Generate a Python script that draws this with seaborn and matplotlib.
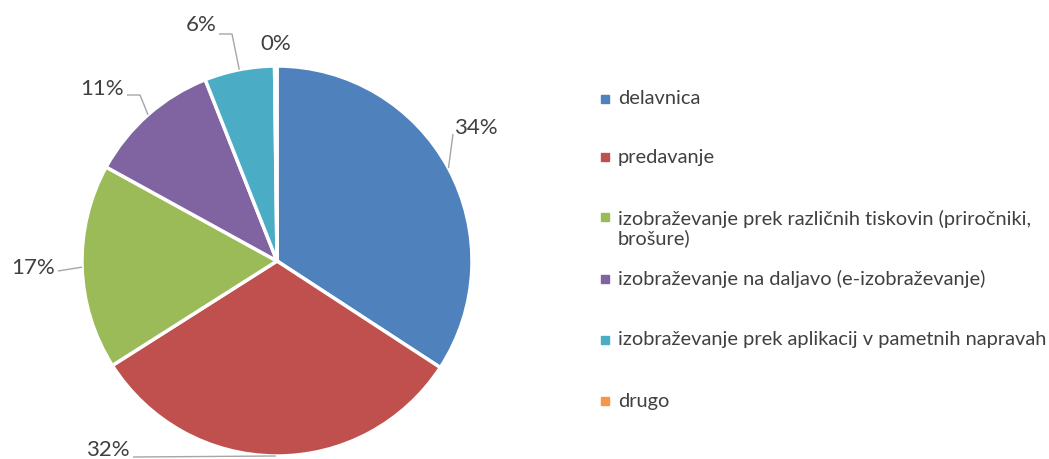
import numpy as np
import matplotlib
matplotlib.use("Agg")
import matplotlib.pyplot as plt
import seaborn as sns

# podatki
kategorije = [
    "delavnica",
    "predavanje",
    "izobraževanje prek različnih tiskovin (priročniki,\nbrošure)",
    "izobraževanje na daljavo (e-izobraževanje)",
    "izobraževanje prek aplikacij v pametnih napravah",
    "drugo",
]
deleži = [34.2, 31.8, 17.0, 11.0, 5.8, 0.2]
oznake = ["34%", "32%", "17%", "11%", "6%", "0%"]

barve = ["#4F81BD", "#C0504D", "#9BBB59", "#8064A2", "#4BACC6", "#F79646"]

sns.set_theme(style="white")
plt.rcParams["font.family"] = ["Lato", "DejaVu Sans"]
tekst = "#404040"
crta = "#A6A6A6"

W, H = 1049, 459
fig = plt.figure(figsize=(W / 100, H / 100), dpi=100)
ax = fig.add_axes([0, 0, 1, 1])
ax.axis("off")

cx, cy, r = 277, H - 261, 195
klini, _ = ax.pie(deleži, colors=sns.color_palette(barve), startangle=90,
                  counterclock=False, center=(cx, cy), radius=r,
                  wedgeprops=dict(edgecolor="white", linewidth=2.5))
ax.set_xlim(0, W)
ax.set_ylim(0, H)
ax.set_aspect("equal")

# položaji oznak (središče besedila) in pregibi vodil, v pikslih od zgoraj
pos_oznak = [(476, 128), (108, 450), (33, 268), (102, 89), (201, 25), (276, 44)]
pregibi = [[(453, 134)], [(133, 457)], [(58, 271)],
           [(140, 95), (127, 95)], [(232, 34), (219, 34)], None]

for klin, lab, (tx, ty), pr in zip(klini, oznake, pos_oznak, pregibi):
    ax.text(tx, H - ty, lab, ha="center", va="center", fontsize=16, color=tekst)
    if pr is None:
        continue
    kot = np.deg2rad((klin.theta1 + klin.theta2) / 2)
    xs = [cx + r * np.cos(kot)] + [p[0] for p in pr]
    ys = [cy + r * np.sin(kot)] + [H - p[1] for p in pr]
    ax.plot(xs, ys, color=crta, lw=1, solid_capstyle="butt")

# legenda
leg_y = [99, 157, 217, 279, 340, 401]
for kat, barva, y in zip(kategorije, barve, leg_y):
    ax.plot([605], [H - y], marker="s", markersize=5.5, color=barva, linestyle="none")
    vrstice = kat.count("\n")
    ax.text(618, H - y - vrstice * 11.5, kat, ha="left", va="center",
            fontsize=14.4, color=tekst, linespacing=1.1)

fig.savefig("out.png", dpi=100)
